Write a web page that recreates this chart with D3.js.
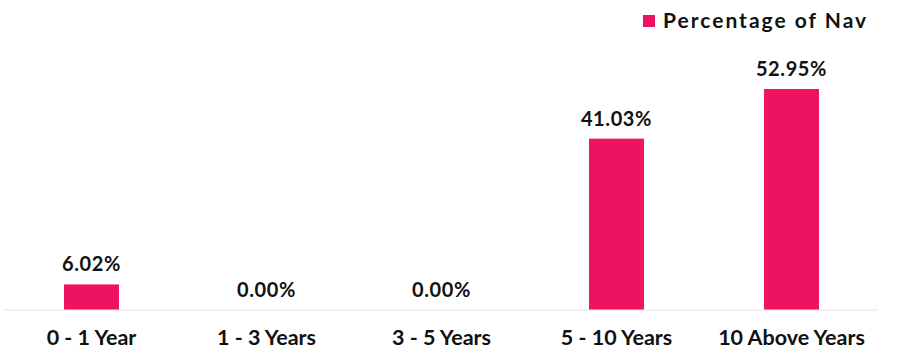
<!DOCTYPE html>
<html>
<head>
<meta charset="utf-8">
<script src="https://cdn.jsdelivr.net/npm/d3@7"></script>
<style>
  body { margin: 0; background: #fff; }
  text { font-family: Lato, sans-serif; }
</style>
</head>
<body>
<div id="chart"></div>
<script>
(function () {

  const categories = ['0 - 1 Year', '1 - 3 Years', '3 - 5 Years', '5 - 10 Years', '10 Above Years']
  const values = [6.02, 0.00, 0.00, 41.03, 52.95]
  const seriesName = 'Percentage of Nav'

  const width = 902
  const height = 362
  const baseline = 309.5

  const svg = d3.select('#chart').append('svg')
      .attr('width', width)
      .attr('height', height)

  const xPositionScale = d3.scaleBand()
    .domain(categories)
    .range([4, 879])

  const yPositionScale = d3.scaleLinear()
    .domain([0, 52.95])
    .range([baseline, 89])

  const barWidth = xPositionScale.bandwidth() * 0.314

  // baseline
  svg.append('line')
    .attr('x1', 4)
    .attr('x2', 878)
    .attr('y1', baseline + 0.5)
    .attr('y2', baseline + 0.5)
    .attr('stroke', '#e3e3e3')
    .attr('stroke-width', 1)

  svg.selectAll('rect.bar')
    .data(values)
    .join('rect')
    .attr('class', 'bar')
    .attr('x', (d, i) => xPositionScale(categories[i]) + xPositionScale.bandwidth() / 2 - barWidth / 2)
    .attr('y', d => yPositionScale(d))
    .attr('width', barWidth)
    .attr('height', d => baseline - yPositionScale(d))
    .attr('fill', '#ee1262')

  svg.selectAll('text.value')
    .data(values)
    .join('text')
    .attr('class', 'value')
    .attr('x', (d, i) => xPositionScale(categories[i]) + xPositionScale.bandwidth() / 2)
    .attr('y', d => yPositionScale(d) - 13)
    .attr('text-anchor', 'middle')
    .attr('font-size', 20)
    .attr('font-weight', 'bold')
    .attr('letter-spacing', 0.6)
    .attr('fill', '#111')
    .text(d => d.toFixed(2) + '%')

  const xAxis = d3.axisBottom(xPositionScale).tickSize(0).tickPadding(20)
  const axisG = svg.append('g')
    .attr('class', 'axis x-axis')
    .attr('transform', 'translate(0,' + baseline + ')')
    .call(xAxis)
  axisG.select('.domain').remove()
  axisG.selectAll('text')
    .attr('font-size', 21.5)
    .attr('font-weight', 'bold')
    .attr('fill', '#111')
    .attr('font-family', 'Lato, sans-serif')

  // legend
  const legend = svg.append('g')
    .attr('transform', 'translate(643,15)')
  legend.append('rect')
    .attr('width', 12)
    .attr('height', 12)
    .attr('fill', '#ee1262')
  legend.append('text')
    .attr('x', 20)
    .attr('y', 13)
    .attr('font-size', 21)
    .attr('font-weight', 'bold')
    .attr('letter-spacing', 2)
    .attr('fill', '#111')
    .text(seriesName)

})();
</script>
</body>
</html>
